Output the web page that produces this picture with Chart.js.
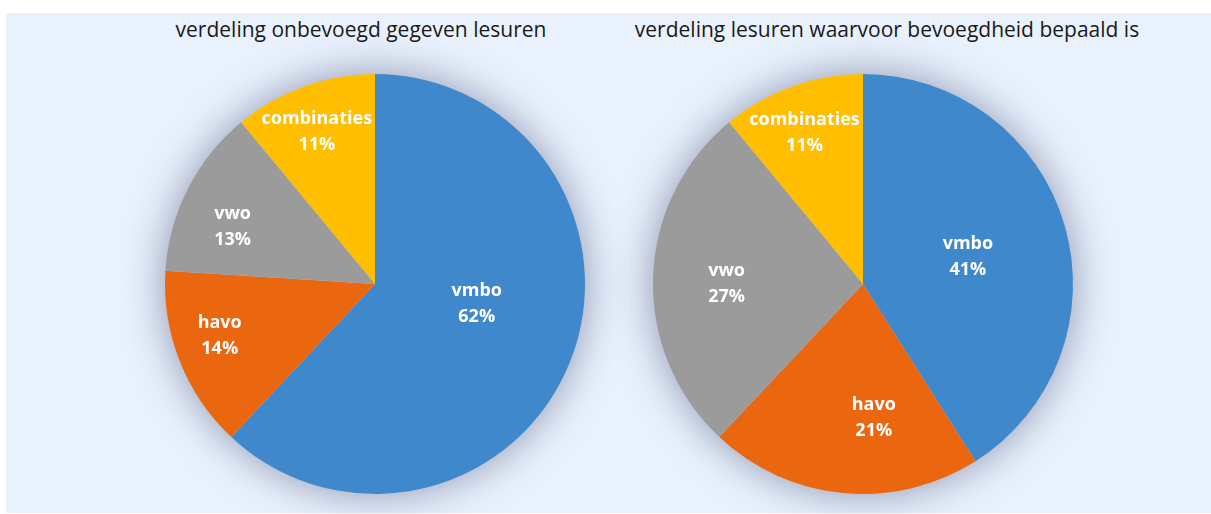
<!DOCTYPE html>
<html>
<head>
<meta charset="utf-8">
<script src="https://cdn.jsdelivr.net/npm/chart.js@4"></script>
<style>
  body { margin: 0; width: 1211px; height: 514px; background: #fff; position: relative; overflow: hidden; }
  #panel { position: absolute; left: 6px; top: 13px; width: 1205px; height: 500px; background: #E9F1FD; }
  .title { position: absolute; top: 15px; font-family: "Open Sans", sans-serif; font-size: 21px; color: #1a1a1a; white-space: nowrap; transform: translateX(-50%); }
  canvas { position: absolute; }
</style>
</head>
<body>
<div id="panel"></div>
<div class="title" id="title1" style="left:361px"></div>
<div class="title" id="title2" style="left:887px"></div>
<canvas id="pie1" style="left:115px; top:24px; width:520px; height:520px"></canvas>
<canvas id="pie2" style="left:603px; top:24px; width:520px; height:520px"></canvas>
<script>
const categories = ["vmbo", "havo", "vwo", "combinaties"];
const onbevoegdValues = [62, 14, 13, 11];
const bepaaldValues = [41, 21, 27, 11];
const chartTitles = ["verdeling onbevoegd gegeven lesuren", "verdeling lesuren waarvoor bevoegdheid bepaald is"];
const sliceColors = ["#3F88CC", "#EA670F", "#9B9B9B", "#FFBE00"];

document.getElementById("title1").textContent = chartTitles[0];
document.getElementById("title2").textContent = chartTitles[1];

// soft glow behind the whole pie
const shadowPlugin = {
    id: "pieShadow",
    beforeDatasetsDraw(chart) {
        const arc = chart.getDatasetMeta(0).data[0];
        if (!arc) return;
        const ctx = chart.ctx;
        ctx.save();
        ctx.shadowColor = "rgba(50, 60, 100, 0.5)";
        ctx.shadowBlur = 40;
        ctx.fillStyle = "#c8cfdc";
        ctx.beginPath();
        ctx.arc(arc.x, arc.y, arc.outerRadius, 0, Math.PI * 2);
        ctx.fill();
        ctx.restore();
    }
};

// white two-line labels inside the slices
const labelPlugin = {
    id: "sliceLabels",
    afterDatasetsDraw(chart, args, opts) {
        const ctx = chart.ctx;
        const ds = chart.data.datasets[0];
        const total = ds.data.reduce((a, b) => a + b, 0);
        chart.getDatasetMeta(0).data.forEach((arc, i) => {
            const mid = (arc.startAngle + arc.endAngle) / 2;
            const r = arc.outerRadius * opts.radius[i];
            const x = arc.x + Math.cos(mid) * r + opts.shift[i][0];
            const y = arc.y + Math.sin(mid) * r + opts.shift[i][1];
            ctx.save();
            ctx.fillStyle = "#fff";
            ctx.font = "bold 18px 'Open Sans', sans-serif";
            ctx.textAlign = "center";
            ctx.textBaseline = "middle";
            ctx.fillText(chart.data.labels[i], x, y - 13);
            ctx.fillText(Math.round(ds.data[i] / total * 100) + "%", x, y + 13);
            ctx.restore();
        });
    }
};

function makePie(id, values, radius, shift) {
    return new Chart(document.getElementById(id), {
        type: "pie",
        data: {
            labels: categories,
            datasets: [{
                data: values,
                backgroundColor: sliceColors,
                borderWidth: 0
            }]
        },
        options: {
            responsive: false,
            animation: false,
            layout: { padding: 50 },
            plugins: {
                legend: { display: false },
                tooltip: { enabled: false },
                sliceLabels: { radius: radius, shift: shift }
            }
        },
        plugins: [shadowPlugin, labelPlugin]
    });
}

makePie("pie1", onbevoegdValues, [0.48, 0.78, 0.74, 0.79], [[8, -17], [-3, -8], [-4, 13], [-2, 4]]);
makePie("pie2", bepaaldValues, [0.52, 0.62, 0.65, 0.78], [[0, 3], [23, 4], [0, 4], [-3, 3]]);
</script>
</body>
</html>
